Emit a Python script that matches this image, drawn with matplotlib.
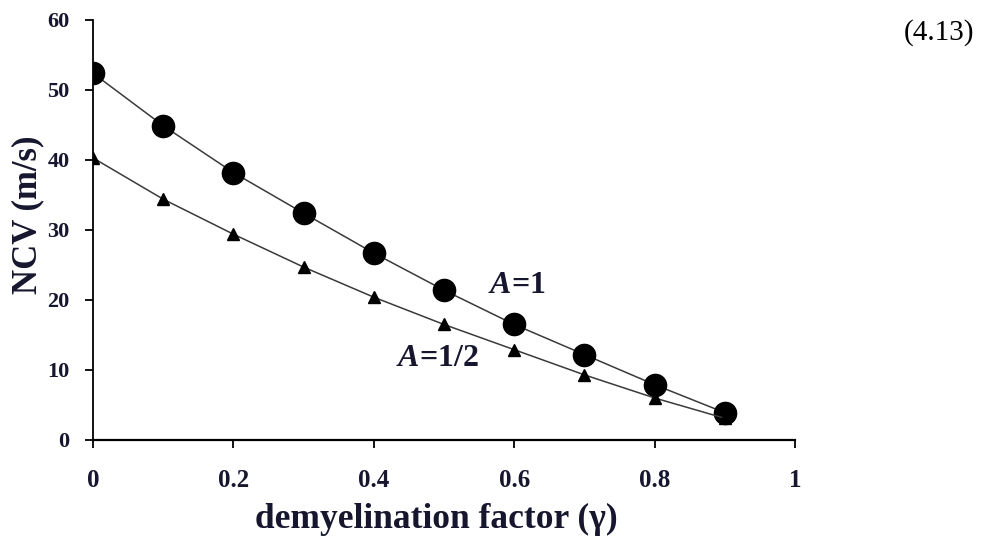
import matplotlib
matplotlib.use("Agg")
from matplotlib import pyplot as plt

# demyelination factor and NCV values
gamma = [0.0, 0.1, 0.2, 0.3, 0.4, 0.5, 0.6, 0.7, 0.8, 0.9]
ncv_a1 = [52.4, 44.9, 38.2, 32.4, 26.7, 21.4, 16.5, 12.2, 7.9, 3.9]
ncv_a_half = [40.3, 34.4, 29.4, 24.7, 20.4, 16.5, 12.9, 9.3, 6.0, 3.1]

xticks = [0, 0.2, 0.4, 0.6, 0.8, 1]
xticklabels = ["0", "0.2", "0.4", "0.6", "0.8", "1"]
yticks = [0, 10, 20, 30, 40, 50, 60]

plt.rcParams['font.family'] = ['Liberation Serif', 'DejaVu Serif']
plt.rcParams['mathtext.fontset'] = 'custom'
plt.rcParams['mathtext.bfit'] = 'Liberation Serif:italic:bold'
plt.rcParams['mathtext.rm'] = 'Liberation Serif'

ink = '#16162e'

fig = plt.figure(figsize=(9.82, 5.39), dpi=100)
ax = fig.add_axes([0.0947, 0.1837, 0.7149, 0.7792])

ax.plot(gamma, ncv_a1, color='#3a3a3a', lw=1.1, marker='o', ms=16,
        mfc='black', mec='black', zorder=3)
ax.plot(gamma, ncv_a_half, color='#3a3a3a', lw=1.1, marker='^', ms=9,
        mfc='black', mec='black', zorder=3)

ax.set_xlim(0, 1)
ax.set_ylim(0, 60)
ax.set_xticks(xticks)
ax.set_xticklabels(xticklabels)
ax.set_yticks(yticks)

for s in ['top', 'right']:
    ax.spines[s].set_visible(False)
ax.spines['bottom'].set_linewidth(1.6)
ax.spines['left'].set_linewidth(1.3)

ax.tick_params(axis='x', direction='out', length=6, width=1.3, pad=15,
               labelsize=18, labelcolor=ink)
ax.tick_params(axis='y', direction='out', length=6, width=1.3, pad=11,
               labelsize=16, labelcolor=ink)
for lab in ax.get_xticklabels() + ax.get_yticklabels():
    lab.set_fontweight('bold')

# axis titles placed where they sit in the picture
fig.text(436 / 982, 1 - 528 / 539, 'demyelination factor (γ)', fontsize=25.5,
         fontweight='bold', color=ink, ha='center', va='baseline')
fig.text(28 / 982, 1 - 215 / 539, 'NCV (m/s)', fontsize=25, fontweight='bold',
         color=ink, ha='center', va='center', rotation=90)

ax.text(0.603, 22.1, r'$\mathbfit{A}$=1', fontsize=23, fontweight='bold',
        color=ink, ha='center', va='center')
ax.text(0.490, 11.7, r'$\mathbfit{A}$=1/2', fontsize=23, fontweight='bold',
        color=ink, ha='center', va='center')

fig.text(939 / 982, 1 - 33 / 539, '(4.13)', fontsize=21, color='black',
         ha='center', va='center')

fig.savefig('out.png', dpi=100)
